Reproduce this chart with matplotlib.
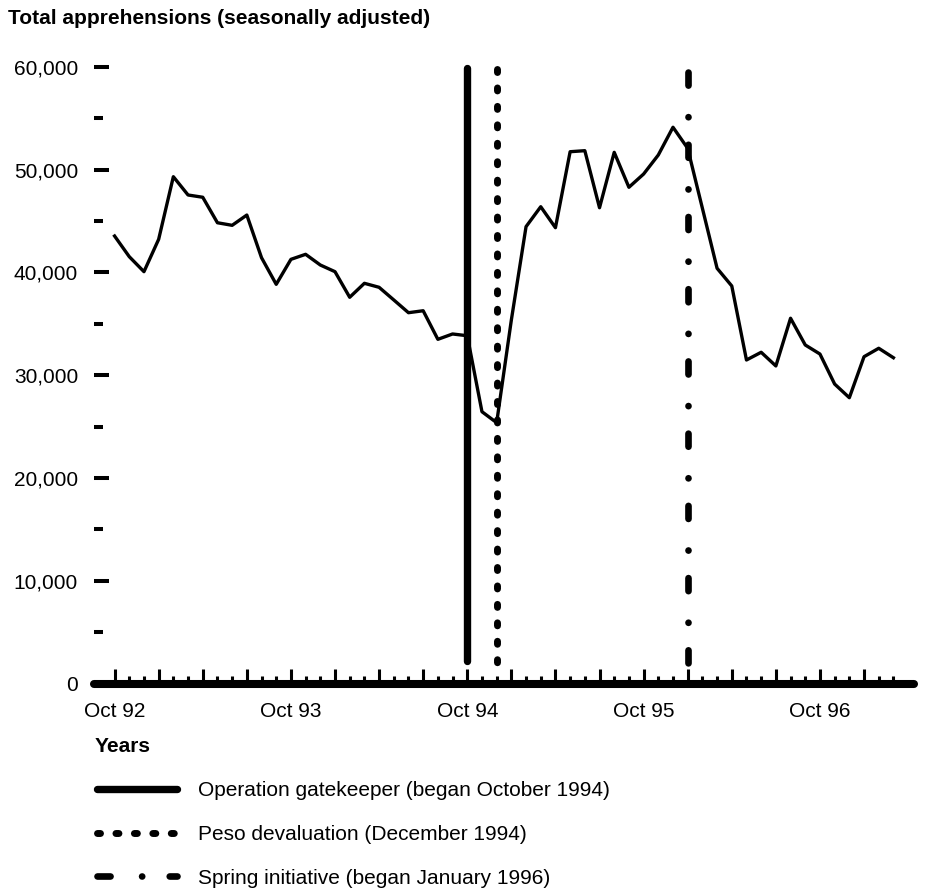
import matplotlib
matplotlib.use('Agg')
import matplotlib.pyplot as plt
from matplotlib.lines import Line2D
import numpy as np

plt.rcParams['font.family'] = ['Liberation Sans', 'DejaVu Sans']
plt.rcParams['lines.scale_dashes'] = False

# monthly totals, Oct 92 .. Mar 97
months = np.arange(54)
apprehensions = [43530, 41520, 40060, 43210, 49300, 47520, 47300, 44820, 44570, 45570,
                 41420, 38830, 41260, 41750, 40710, 40060, 37570, 38930, 38540, 37310,
                 36070, 36260, 33480, 34000, 33830, 26440, 25370, 35360, 44440, 46380,
                 44340, 51730, 51830, 46280, 51670, 48270, 49560, 51410, 54110, 52060,
                 46230, 40390, 38670, 31470, 32220, 30890, 35530, 32930, 32050, 29130,
                 27800, 31790, 32610, 31690]

year_labels = ['Oct 92', 'Oct 93', 'Oct 94', 'Oct 95', 'Oct 96']
y_ticks = [0, 10000, 20000, 30000, 40000, 50000, 60000]
y_tick_labels = ['0', '10,000', '20,000', '30,000', '40,000', '50,000', '60,000']

event_months = [24, 26, 39]
event_labels = ['Operation gatekeeper (began October 1994)',
                'Peso devaluation (December 1994)',
                'Spring initiative (began January 1996)']

W, H = 927, 891
fig = plt.figure(figsize=(W / 100, H / 100), dpi=100)
ax = fig.add_axes([94 / W, (H - 683.5) / H, 820 / W, 616.8 / H])

ax.plot(months, apprehensions, color='black', lw=2.4, zorder=3)

# event lines: style, dash offset on the chart, top/bottom in axes fraction
dash_patterns = [None, (2.16, 11.12), (9.4, 22.7, 0.1, 19.8)]
widths = [5.3, 5.0, 4.8]
offsets = [0, 0, 46.2]
extents = [(0.998, 0.037), (0.997, 0.02), (1.004, 0.032)]

handles = []
for m, dp, lw, off, (top, bot) in zip(event_months, dash_patterns, widths, offsets, extents):
    ls = '-' if dp is None else (off, dp)
    ax.plot([m, m], [top, bot], transform=ax.get_xaxis_transform(), color='black',
            lw=lw, ls=ls, solid_capstyle='round', dash_capstyle='round',
            clip_on=False, zorder=4)
    handles.append(Line2D([], [], color='black', lw=lw, ls='-' if dp is None else (0, dp),
                          solid_capstyle='round', dash_capstyle='round'))

ax.set_xlim(-1.4, 54.4)
ax.set_ylim(0, 60000)

for s in ['left', 'right', 'top']:
    ax.spines[s].set_visible(False)
ax.spines['bottom'].set_linewidth(5.8)
ax.spines['bottom'].set_capstyle('round')

ax.set_yticks(y_ticks)
ax.set_yticklabels(y_tick_labels)
ax.set_yticks(np.arange(5000, 60000, 10000), minor=True)
ax.tick_params(axis='y', which='major', direction='in', length=10.8, width=2.9, pad=11.5, labelsize=15)
ax.tick_params(axis='y', which='minor', direction='in', length=6.5, width=2.9)

xt = np.arange(0, 54, 3)
ax.set_xticks(xt)
ax.set_xticklabels([year_labels[i // 4] if i % 4 == 0 else '' for i in range(len(xt))])
ax.set_xticks(months, minor=True)
ax.tick_params(axis='x', which='major', direction='in', length=11, width=2.2, pad=13, labelsize=15)
ax.tick_params(axis='x', which='minor', direction='in', length=6, width=2.2)

fig.text(8 / W, 1 - 18 / H, 'Total apprehensions (seasonally adjusted)',
         fontsize=15, fontweight='bold', va='center', ha='left')
fig.text(95 / W, 1 - 746 / H, 'Years', fontsize=15, fontweight='bold', va='center', ha='left')

fig.legend(handles, event_labels, loc='upper left', bbox_to_anchor=(96.5 / W, 1 - 781 / H),
           frameon=False, borderpad=0, borderaxespad=0, handlelength=3.85,
           handletextpad=1.0, labelspacing=1.19, fontsize=15)

fig.savefig('out.png', dpi=100)
